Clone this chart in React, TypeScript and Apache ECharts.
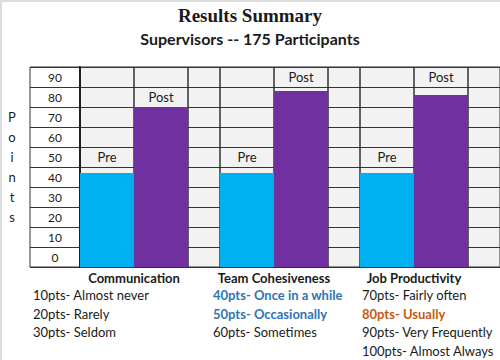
import React, { useEffect, useRef } from "react";
import * as echarts from "echarts";

const categories = ["Communication", "Team Cohesiveness", "Job Productivity"];
const preValues = [47, 47, 47];
const postValues = [80, 88, 86];
const gapValues = [0, 0, 0];
const yTickLabels = ["0", "10", "20", "30", "40", "50", "60", "70", "80", "90"];
const scaleCol1 = ["10pts- Almost never", "20pts- Rarely", "30pts- Seldom"];
const scaleCol2 = ["40pts- Once in a while", "50pts- Occasionally", "60pts- Sometimes"];
const scaleCol3 = ["70pts- Fairly often", "80pts- Usually", "90pts- Very Frequently", "100pts- Almost Always"];
const blueItems = ["40pts- Once in a while", "50pts- Occasionally"];
const orangeItems = ["80pts- Usually"];

const SANS = "Lato, 'Liberation Sans', sans-serif";
const LINE = "#333";
const Y_MAX = 100;
const PLOT_H = 200;
const ROW = 10;
const LABEL_FONT = 13;

export default function App() {
  const ref = useRef<HTMLDivElement>(null);
  useEffect(() => {
    document.body.style.margin = "0";
    if (!ref.current) return;
    const chart = echarts.init(ref.current, undefined, { renderer: "svg" });

    const scaleTexts: any[] = [];
    const cols = [
      { x: 33, items: scaleCol1 },
      { x: 213, items: scaleCol2 },
      { x: 362, items: scaleCol3 },
    ];
    cols.forEach((c) => {
      c.items.forEach((t, i) => {
        const blue = blueItems.includes(t);
        const orange = orangeItems.includes(t);
        scaleTexts.push({
          type: "text",
          x: c.x,
          y: 295 + i * 18.6,
          style: {
            text: t,
            fill: blue ? "#2e75b6" : orange ? "#c55a11" : "#1a1a1a",
            font: `${blue || orange ? "bold " : ""}13px ${SANS}`,
            verticalAlign: "middle",
            align: "left",
          },
        });
      });
    });

    // place each bar's label centred in the table row just above the bar top
    const pxPerUnit = PLOT_H / Y_MAX;
    const withCellLabel = (vals: number[], name: string) =>
      vals.map((v) => {
        const cellCenter = Math.ceil(v / ROW) * ROW + ROW / 2;
        const distance = (cellCenter - v) * pxPerUnit - LABEL_FONT / 2;
        return {
          value: v,
          label: {
            show: true,
            position: "top",
            distance,
            formatter: name,
            color: "#1a1a1a",
            fontFamily: SANS,
            fontSize: LABEL_FONT,
          },
        };
      });
    const bg = { color: "rgba(0,0,0,0)", borderColor: LINE, borderWidth: 1 };

    chart.setOption({
      animation: false,
      backgroundColor: "#ffffff",
      title: [
        {
          text: "Results Summary",
          left: "center",
          top: 1,
          textStyle: { fontFamily: "'Liberation Serif', serif", fontWeight: "bold", fontSize: 19, color: "#1a1a1a" },
        },
        {
          text: "Supervisors -- 175 Participants",
          left: "center",
          top: 25,
          textStyle: { fontFamily: SANS, fontWeight: "bold", fontSize: 16, color: "#1a1a1a" },
        },
      ],
      grid: [
        { left: 30, width: 50, top: 67, height: PLOT_H, show: true, backgroundColor: "#ffffff", borderColor: LINE, borderWidth: 1 },
        { left: 80, right: 0, top: 67, height: PLOT_H, show: true, backgroundColor: "#f2f2f2", borderWidth: 0 },
      ],
      xAxis: [
        { gridIndex: 0, type: "value", show: false, min: 0, max: 1 },
        {
          gridIndex: 1,
          type: "category",
          data: categories,
          axisLine: { show: true, lineStyle: { color: LINE, width: 1 } },
          axisTick: { show: false },
          splitLine: { show: false },
          axisLabel: {
            interval: 0,
            margin: 4,
            color: "#1a1a1a",
            fontFamily: SANS,
            fontWeight: "bold",
            fontSize: 13,
            padding: [0, 32, 0, 0],
          },
        },
      ],
      yAxis: [
        {
          gridIndex: 0,
          type: "value",
          min: 0,
          max: Y_MAX,
          interval: ROW,
          name: "P\no\ni\nn\nt\ns",
          nameLocation: "middle",
          nameRotate: 0,
          nameGap: 18,
          nameTextStyle: { fontFamily: SANS, fontSize: 13, color: "#1a1a1a", lineHeight: 20, align: "center" },
          axisLine: { show: false },
          axisTick: { show: false },
          splitLine: { show: true, lineStyle: { color: LINE, width: 1 } },
          axisLabel: {
            inside: true,
            margin: 25,
            align: "center",
            verticalAlign: "bottom",
            lineHeight: 20,
            color: "#1a1a1a",
            fontFamily: SANS,
            fontSize: 12,
            formatter: (v: number) => (yTickLabels.includes(String(v)) ? String(v) : ""),
          },
        },
        {
          gridIndex: 1,
          type: "value",
          min: 0,
          max: Y_MAX,
          interval: ROW,
          axisLine: { show: true, lineStyle: { color: "#111", width: 2 } },
          axisTick: { show: false },
          axisLabel: { show: false },
          splitLine: { show: true, lineStyle: { color: LINE, width: 1 } },
        },
      ],
      series: [
        {
          name: "Pre",
          type: "bar",
          xAxisIndex: 1,
          yAxisIndex: 1,
          data: withCellLabel(preValues, "Pre"),
          barWidth: 54,
          barGap: "0%",
          itemStyle: { color: "#00b0f0" },
          showBackground: true,
          backgroundStyle: bg,
        },
        {
          name: "Post",
          type: "bar",
          xAxisIndex: 1,
          yAxisIndex: 1,
          data: withCellLabel(postValues, "Post"),
          barWidth: 54,
          barGap: "0%",
          itemStyle: { color: "#7030a0" },
          showBackground: true,
          backgroundStyle: bg,
        },
        {
          name: "gap",
          type: "bar",
          xAxisIndex: 1,
          yAxisIndex: 1,
          data: gapValues,
          barWidth: 32,
          barGap: "0%",
          silent: true,
          itemStyle: { color: "rgba(0,0,0,0)" },
          showBackground: true,
          backgroundStyle: bg,
        },
      ],
      graphic: [
        { type: "rect", shape: { x: 0, y: 0, width: 2, height: 360 }, style: { fill: "#dcdcdc" } },
        { type: "rect", shape: { x: 0, y: 0, width: 500, height: 2 }, style: { fill: "#dcdcdc" } },
        ...scaleTexts,
      ],
    });
    return () => chart.dispose();
  }, []);
  return <div ref={ref} style={{ width: 500, height: 360 }} />;
}
